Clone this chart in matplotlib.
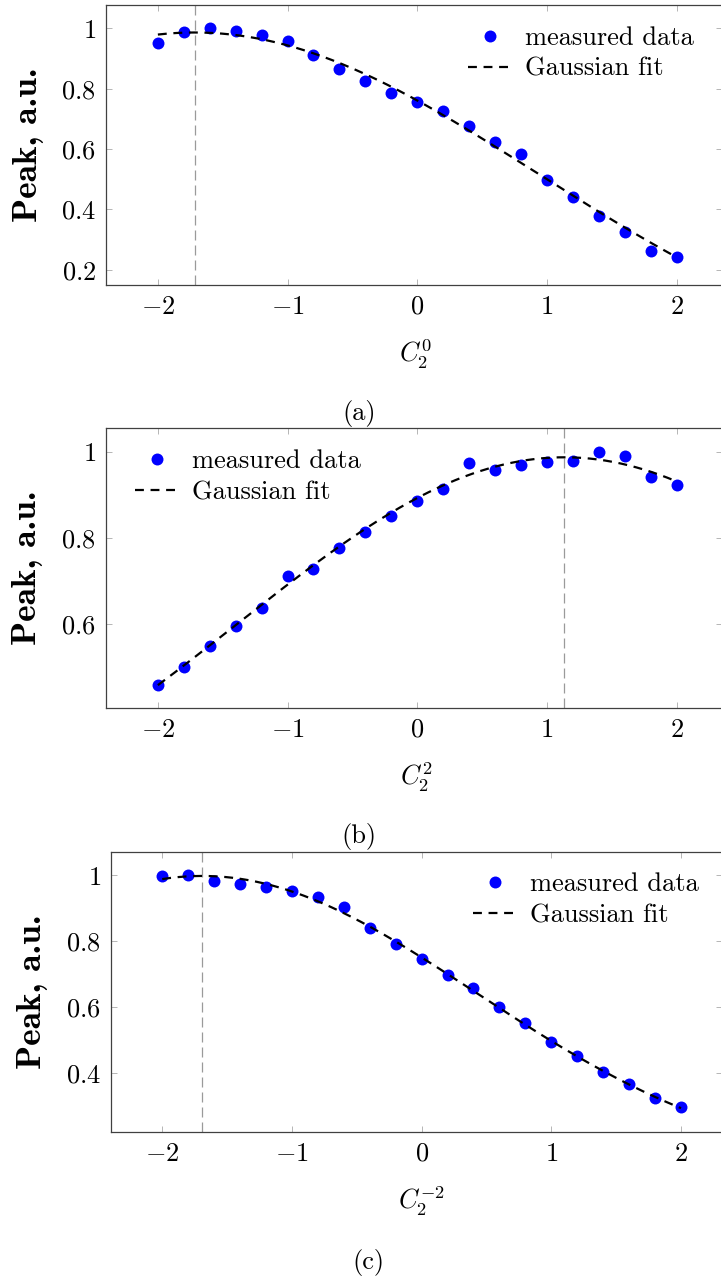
import matplotlib
matplotlib.use('Agg')
import matplotlib.pyplot as plt
import numpy as np

plt.rcParams['mathtext.fontset'] = 'cm'
plt.rcParams['font.family'] = 'cmr10'
plt.rcParams['axes.unicode_minus'] = False

# ---------------- data ----------------
c2_values = [-2.0, -1.8, -1.6, -1.4, -1.2, -1.0, -0.8, -0.6, -0.4, -0.2, 0.0,
             0.2, 0.4, 0.6, 0.8, 1.0, 1.2, 1.4, 1.6, 1.8, 2.0]

peak_a = [0.950, 0.989, 1.000, 0.992, 0.979, 0.957, 0.912, 0.864, 0.827, 0.785, 0.756,
          0.725, 0.678, 0.623, 0.584, 0.499, 0.440, 0.379, 0.327, 0.263, 0.244]
peak_b = [0.458, 0.500, 0.548, 0.595, 0.638, 0.712, 0.727, 0.776, 0.814, 0.851, 0.886,
          0.913, 0.973, 0.957, 0.968, 0.977, 0.978, 1.000, 0.989, 0.941, 0.923]
peak_c = [0.998, 1.000, 0.982, 0.975, 0.964, 0.952, 0.935, 0.905, 0.840, 0.792, 0.745,
          0.699, 0.658, 0.601, 0.553, 0.496, 0.451, 0.405, 0.368, 0.325, 0.297]

# Gaussian fit parameters (offset, amplitude, centre, sigma)
fit_a = (-0.2, 1.186, -1.716, 2.645)
fit_b = (0.0, 0.987, 1.135, 2.53)
fit_c = (0.1, 0.898, -1.692, 2.11)

xtick_vals = [-2, -1, 0, 1, 2]
xtick_labels = [r'$-2$', r'$-1$', r'$0$', r'$1$', r'$2$']
ytick_a = [0.2, 0.4, 0.6, 0.8, 1.0]
ytick_b = [0.6, 0.8, 1.0]
ytick_c = [0.4, 0.6, 0.8, 1.0]

xlabels = [r'$C_2^0$', r'$C_2^2$', r'$C_2^{-2}$']
captions = ['(a)', '(b)', '(c)']
ylabel_text = 'Peak, a.u.'
legend_labels = ['measured data', 'Gaussian fit']

# ---------------- layout ----------------
W, H = 721, 1276
fig = plt.figure(figsize=(W / 100, H / 100), dpi=100)


def rect(l, t, r, b):
    return [l / W, 1 - b / H, (r - l) / W, (b - t) / H]


panels = [
    dict(rect=rect(106, 5, 722, 285), peak=peak_a, fit=fit_a, yticks=ytick_a,
         xlim=(-2.4, 2.35), ylim=(0.150, 1.077), leg=(468, 53.5),
         xl=(0.503, -0.246), yl=-0.126, cap=(359, 413.5)),
    dict(rect=rect(106, 428, 722, 708), peak=peak_b, fit=fit_b, yticks=ytick_b,
         xlim=(-2.4, 2.35), ylim=(0.405, 1.055), leg=(135, 477),
         xl=(0.503, -0.246), yl=-0.128, cap=(359, 836)),
    dict(rect=rect(110.7, 852, 722, 1132), peak=peak_c, fit=fit_c, yticks=ytick_c,
         xlim=(-2.397, 2.316), ylim=(0.222, 1.0706), leg=(473, 900),
         xl=(0.508, -0.246), yl=-0.128, cap=(368, 1262)),
]

FS = 19
YFS = 25.5
xx = np.linspace(-2, 2, 400)

for i, p in enumerate(panels):
    ax = fig.add_axes(p['rect'])
    off, amp, cen, sig = p['fit']
    ax.axvline(cen, color='#9a9a9a', lw=0.9, dashes=(8, 4), zorder=1)
    ax.plot(c2_values, p['peak'], 'o', color='#0000ff', ms=8.6, mec='none',
            zorder=3, label=legend_labels[0])
    yy = off + amp * np.exp(-(xx - cen) ** 2 / (2 * sig ** 2))
    ax.plot(xx, yy, color='black', lw=1.6, dashes=(4, 3), zorder=4,
            label=legend_labels[1])

    ax.set_xlim(*p['xlim'])
    ax.set_ylim(*p['ylim'])
    ax.set_xticks(xtick_vals)
    ax.set_xticklabels(xtick_labels)
    ax.set_yticks(p['yticks'])
    ax.set_yticklabels([r'$%g$' % v for v in p['yticks']])
    ax.tick_params(direction='in', length=4, width=0.7, color='#b5b5b5',
                   top=True, right=True, labelsize=FS, pad=7.2)
    for s in ax.spines.values():
        s.set_color('#404040')
        s.set_linewidth(0.9)

    ax.set_xlabel(xlabels[i], fontsize=FS)
    ax.xaxis.set_label_coords(*p['xl'])
    ax.xaxis.label.set_va('center')
    ax.set_ylabel(ylabel_text, fontsize=YFS, fontfamily='cmb10')
    ax.yaxis.set_label_coords(p['yl'], 0.5)
    ax.yaxis.label.set_va('center')

    lx, ly = p['leg']
    ax.legend(loc='center left', bbox_to_anchor=(lx / W, 1 - ly / H),
              bbox_transform=fig.transFigure, frameon=False, borderpad=0,
              borderaxespad=0, handlelength=1.67, handletextpad=0.5,
              labelspacing=0.27, numpoints=1,
              prop={'family': 'cmr10', 'size': FS})

    cx, cy = p['cap']
    fig.text(cx / W, 1 - cy / H, captions[i], ha='center', va='center',
             fontsize=FS, fontfamily='cmr10')

fig.savefig('out.png', dpi=100)
